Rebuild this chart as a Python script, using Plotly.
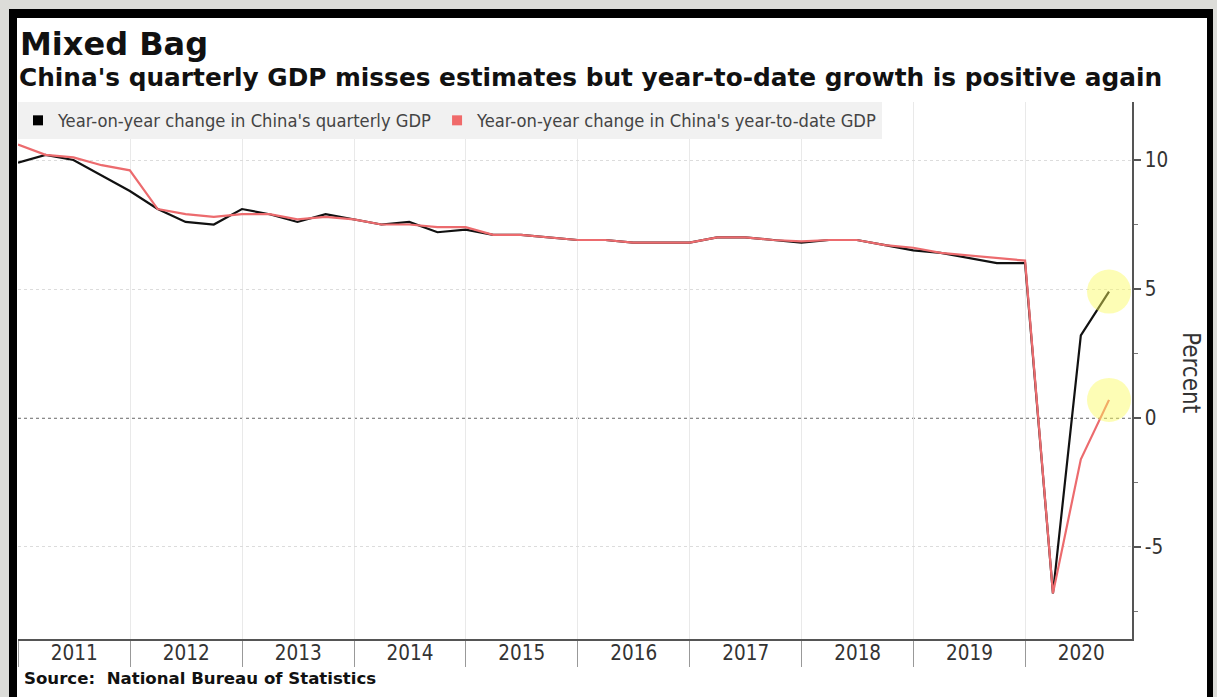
import plotly.graph_objects as go

# ---------------- data ----------------
quarter_ends = [
    "2010-12-31",
    "2011-03-31", "2011-06-30", "2011-09-30", "2011-12-31",
    "2012-03-31", "2012-06-30", "2012-09-30", "2012-12-31",
    "2013-03-31", "2013-06-30", "2013-09-30", "2013-12-31",
    "2014-03-31", "2014-06-30", "2014-09-30", "2014-12-31",
    "2015-03-31", "2015-06-30", "2015-09-30", "2015-12-31",
    "2016-03-31", "2016-06-30", "2016-09-30", "2016-12-31",
    "2017-03-31", "2017-06-30", "2017-09-30", "2017-12-31",
    "2018-03-31", "2018-06-30", "2018-09-30", "2018-12-31",
    "2019-03-31", "2019-06-30", "2019-09-30", "2019-12-31",
    "2020-03-31", "2020-06-30", "2020-09-30",
]
quarterly_gdp = [
    9.9,
    10.2, 10.0, 9.4, 8.8,
    8.1, 7.6, 7.5, 8.1,
    7.9, 7.6, 7.9, 7.7,
    7.5, 7.6, 7.2, 7.3,
    7.1, 7.1, 7.0, 6.9,
    6.9, 6.8, 6.8, 6.8,
    7.0, 7.0, 6.9, 6.8,
    6.9, 6.9, 6.7, 6.5,
    6.4, 6.2, 6.0, 6.0,
    -6.8, 3.2, 4.9,
]
ytd_gdp = [
    10.6,
    10.2, 10.1, 9.8, 9.6,
    8.1, 7.9, 7.8, 7.9,
    7.9, 7.7, 7.8, 7.7,
    7.5, 7.5, 7.4, 7.4,
    7.1, 7.1, 7.0, 6.9,
    6.9, 6.8, 6.8, 6.8,
    7.0, 7.0, 6.9, 6.85,
    6.9, 6.9, 6.7, 6.6,
    6.4, 6.3, 6.2, 6.1,
    -6.8, -1.6, 0.7,
]
y_ticks = [-5, 0, 5, 10]
y_tick_labels = ["-5", "0", "5", "10"]
y_range = [-8.57, 12.25]
x_range = ["2010-12-31", "2020-12-14"]

name_q = "Year-on-year change in China's quarterly GDP"
name_ytd = "Year-on-year change in China's year-to-date GDP"

# ---------------- layout geometry ----------------
W, H = 1217, 697
L, R, T, B = 18, 1132, 102, 639


def xp(px):
    return (px - L) / (R - L)


def yp(py):
    return (B - py) / (B - T)


BLACK = "#111111"
RED = "#ec6b6e"
TXT = "#333333"
COND = "DejaVu Sans Condensed, DejaVu Sans, sans-serif"
BOLD = "DejaVu Sans, Verdana, sans-serif"

fig = go.Figure()

fig.add_trace(go.Scatter(x=quarter_ends, y=quarterly_gdp, mode="lines",
                         line=dict(color=BLACK, width=2.2), showlegend=False,
                         hoverinfo="skip"))
fig.add_trace(go.Scatter(x=quarter_ends, y=ytd_gdp, mode="lines",
                         line=dict(color=RED, width=2.2), showlegend=False,
                         hoverinfo="skip"))
# highlight circles on the latest readings
fig.add_trace(go.Scatter(x=[quarter_ends[-1], quarter_ends[-1]],
                         y=[quarterly_gdp[-1], ytd_gdp[-1]], mode="markers",
                         marker=dict(size=44, color="rgba(250,250,90,0.45)",
                                     line=dict(width=0)),
                         showlegend=False, hoverinfo="skip"))
# legend entries (square swatches)
fig.add_trace(go.Scatter(x=[None], y=[None], mode="markers", name=name_q,
                         marker=dict(symbol="square", size=10, color="black")))
fig.add_trace(go.Scatter(x=[None], y=[None], mode="markers", name=name_ytd,
                         marker=dict(symbol="square", size=10, color="#f06a6a")))

shapes = [
    # black frame and white card
    dict(type="rect", xref="paper", yref="paper", layer="below",
         x0=xp(9), x1=xp(1213), y0=yp(9), y1=yp(697),
         fillcolor="black", line=dict(width=0)),
    dict(type="rect", xref="paper", yref="paper", layer="below",
         x0=xp(17), x1=xp(1207), y0=yp(18), y1=yp(697),
         fillcolor="white", line=dict(width=0)),
    # dotted zero line
    dict(type="line", xref="paper", yref="y", layer="below",
         x0=0, x1=1, y0=0, y1=0,
         line=dict(color="#8a8a8a", width=2, dash="dot")),
]

annotations = [
    dict(text="<b>Mixed Bag</b>", xref="paper", yref="paper",
         x=xp(18), y=yp(44), xanchor="left", yanchor="middle",
         showarrow=False, font=dict(family=BOLD, size=32, color="#111")),
    dict(text="<b>China's quarterly GDP misses estimates but year-to-date growth is positive again</b>",
         xref="paper", yref="paper", x=xp(17), y=yp(77),
         xanchor="left", yanchor="middle", showarrow=False,
         font=dict(family=BOLD, size=24.8, color="#111")),
    dict(text="<b>Source:  National Bureau of Statistics</b>", xref="paper",
         yref="paper", x=xp(22), y=yp(678), xanchor="left", yanchor="middle",
         showarrow=False, font=dict(family=BOLD, size=16.6, color="#111")),
    dict(text="Percent", xref="paper", yref="paper", x=xp(1191), y=yp(372),
         xanchor="center", yanchor="middle", textangle=90, showarrow=False,
         font=dict(family=COND, size=24, color=TXT)),
]

fig.update_layout(
    width=W, height=H,
    margin=dict(l=L, r=W - R, t=T, b=H - B, pad=0),
    paper_bgcolor="#dcdcd8",
    plot_bgcolor="white",
    shapes=shapes,
    annotations=annotations,
    showlegend=True,
    legend=dict(orientation="h", x=0, y=1, xanchor="left", yanchor="top",
                bgcolor="#f1f1f1", borderwidth=0,
                font=dict(family=COND, size=18.2, color="#444"),
                itemclick=False, itemdoubleclick=False),
    xaxis=dict(
        type="date", range=x_range, dtick="M12", tick0="2011-01-01",
        tickformat="%Y", ticklabelmode="period",
        showgrid=True, gridcolor="#e9e9e9", gridwidth=1,
        showline=True, linecolor="#555", linewidth=1.5,
        ticks="outside", ticklen=26, tickwidth=1, tickcolor="#999",
        ticklabelstandoff=-31,
        tickfont=dict(family=COND, size=20.5, color=TXT),
        zeroline=False, fixedrange=True,
    ),
    yaxis=dict(
        side="right", range=y_range, tickvals=y_ticks, ticktext=y_tick_labels,
        showgrid=True, gridcolor="#dcdcdc", griddash="dot", gridwidth=1,
        showline=True, linecolor="#555", linewidth=1.5,
        ticks="outside", ticklen=7, tickwidth=2, tickcolor="#555",
        minor=dict(dtick=2.5, tick0=0, ticks="outside", ticklen=4,
                   tickwidth=1, tickcolor="#777", showgrid=False),
        tickfont=dict(family=COND, size=20.5, color=TXT),
        zeroline=False, fixedrange=True,
    ),
)

fig.write_html("out.html")
